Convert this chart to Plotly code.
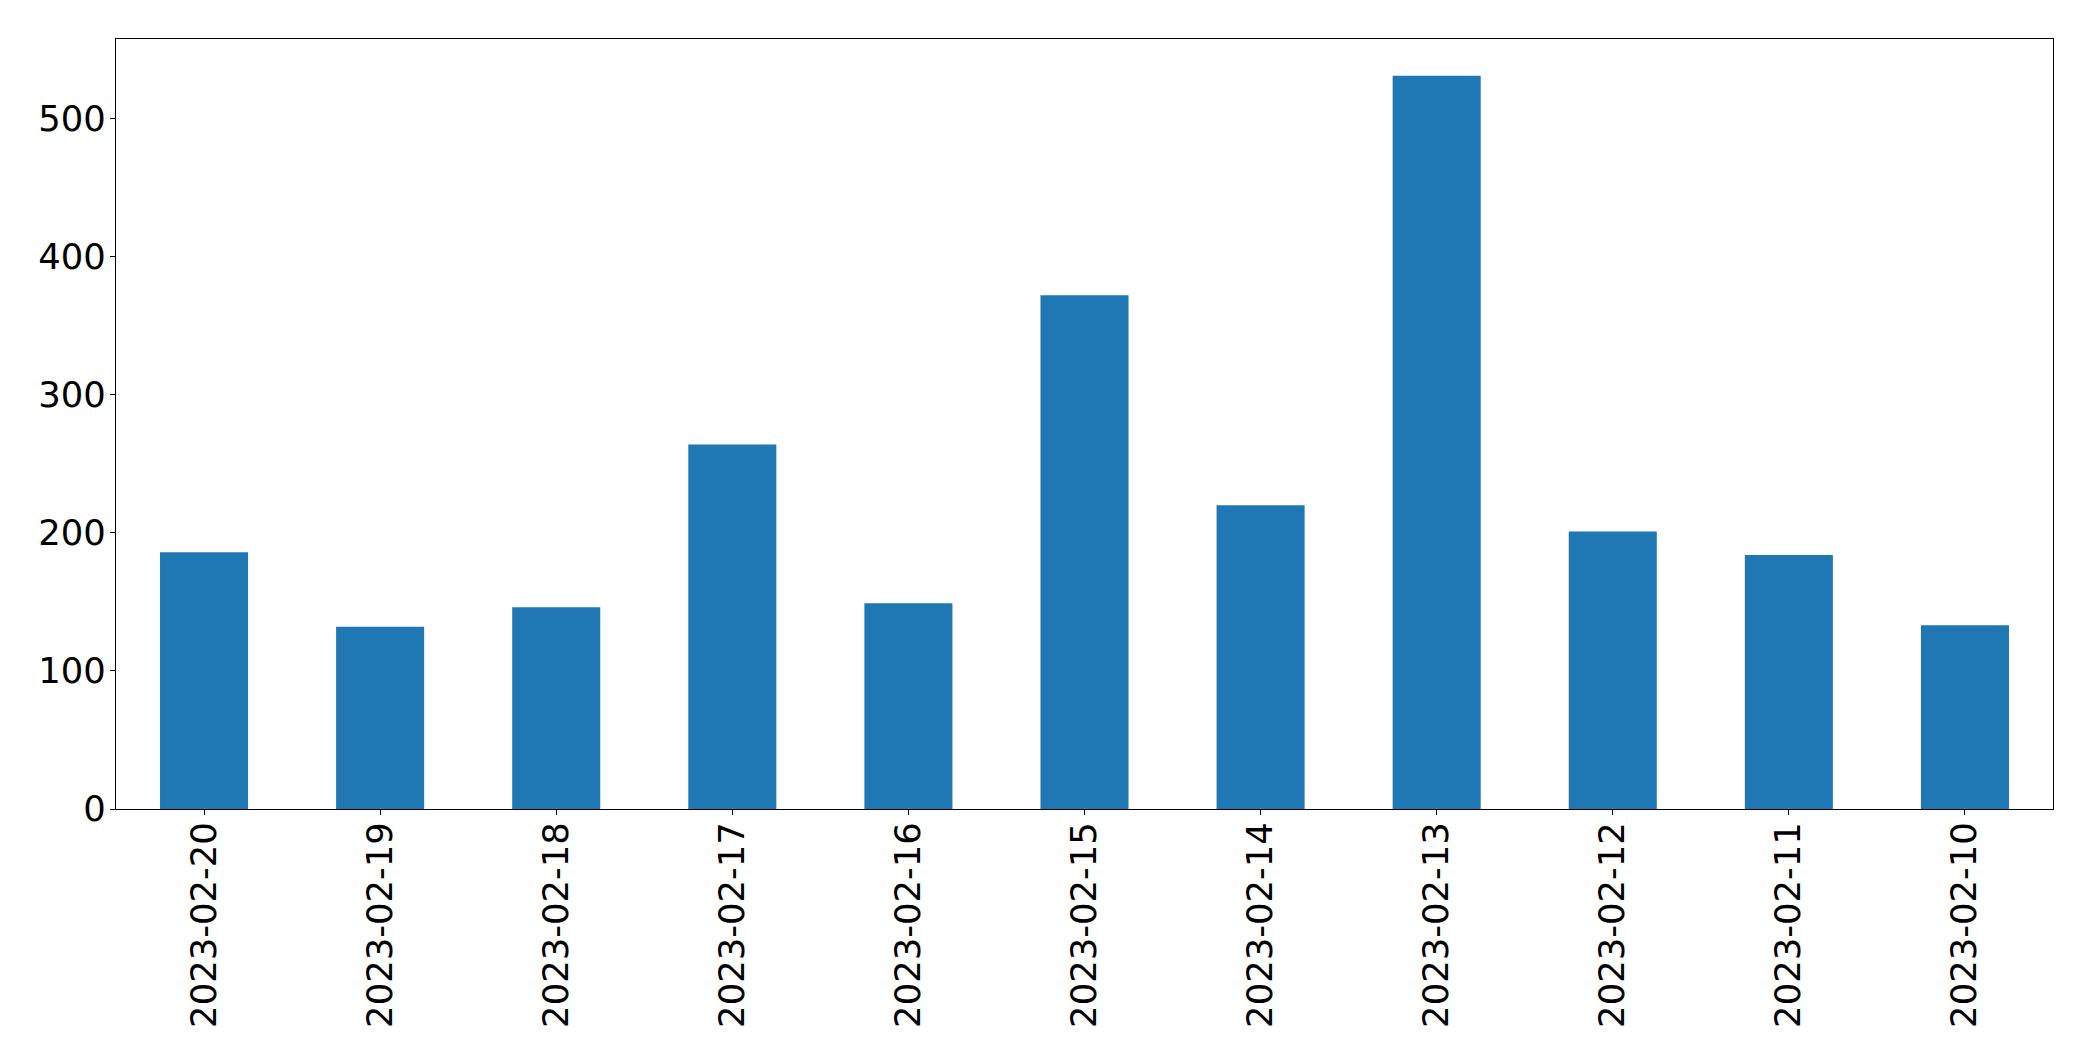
import plotly.graph_objects as go

dates = ["2023-02-20", "2023-02-19", "2023-02-18", "2023-02-17", "2023-02-16",
         "2023-02-15", "2023-02-14", "2023-02-13", "2023-02-12", "2023-02-11",
         "2023-02-10"]
counts = [186, 132, 146, 264, 149, 372, 220, 531, 201, 184, 133]
y_ticks = [0, 100, 200, 300, 400, 500]

fig = go.Figure(go.Bar(x=dates, y=counts, width=0.5, marker=dict(color="#1f77b4", line=dict(width=0))))

font = dict(family="DejaVu Sans", size=35.4, color="black")
fig.update_layout(
    width=2093, height=1061,
    margin=dict(l=108, r=48, t=31, b=260),
    plot_bgcolor="white", paper_bgcolor="white",
    showlegend=False,
    font=font,
)
fig.update_xaxes(
    type="category", range=[-0.5, len(dates) - 0.5],
    tickangle=-90, ticks="outside", ticklen=5, tickwidth=1.1, tickcolor="black",
    showline=True, linecolor="black", linewidth=1.1, mirror=True,
    showgrid=False, tickfont=font, ticklabelstandoff=-7,
)
fig.update_yaxes(
    range=[0, max(counts) * 1.05], tickvals=y_ticks,
    ticks="outside", ticklen=5, tickwidth=1.1, tickcolor="black",
    showline=True, linecolor="black", linewidth=1.1, mirror=True,
    showgrid=False, zeroline=False, tickfont=font, ticklabelstandoff=-3,
)
fig.write_html("out.html")
